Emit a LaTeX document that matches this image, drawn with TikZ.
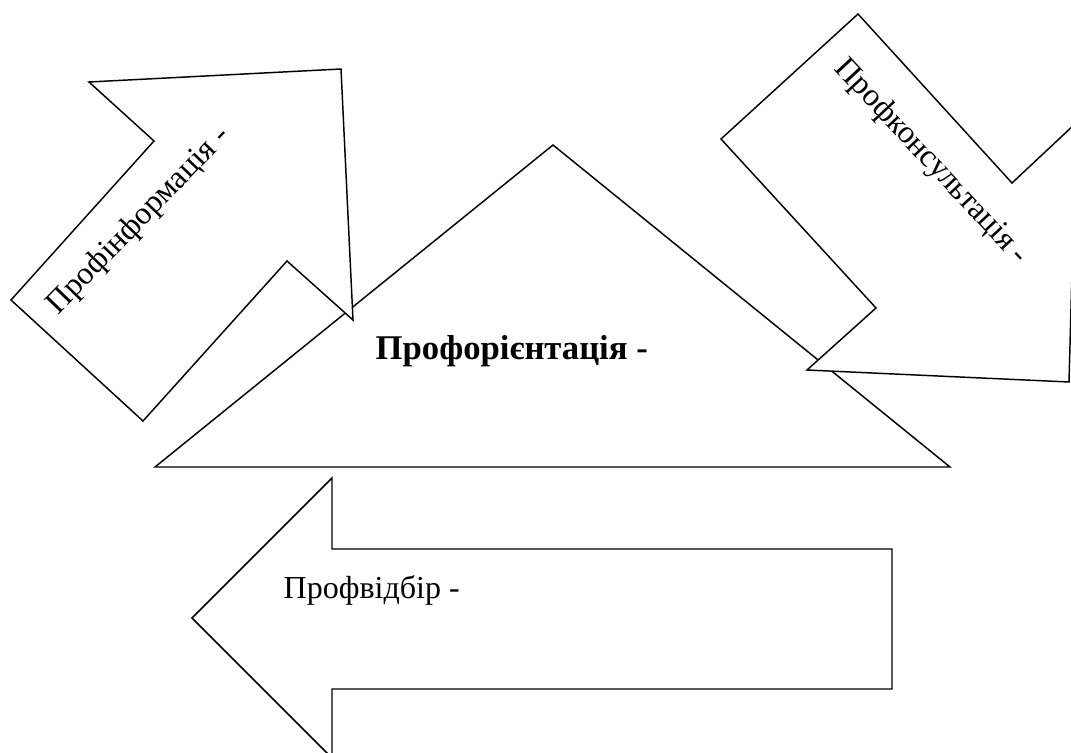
\documentclass[tikz,border=0pt]{standalone}
\usepackage{fontspec}
\setmainfont{Liberation Serif}
\begin{document}
\begin{tikzpicture}[x=0.75pt, y=-0.75pt, line width=1.1pt, line join=miter,
  shp/.style={draw=black, fill=white},
  lbl/.style={font=\fontsize{24}{28}\selectfont, inner sep=0pt}]
  \useasboundingbox (0,0) rectangle (1071,753);
  \clip (0,0) rectangle (1071,753);
  % central triangle
  \draw[shp] (155,467) -- (553,145) -- (950,467) -- cycle;
  % arrows
  \draw[shp] (341,69) -- (353,320) -- (287,261) -- (143,421) -- (11,300)
    -- (154,141) -- (89,82) -- cycle;
  \draw[shp] (858,14) -- (1012,183) -- (1076,123) -- (1069,382) -- (807,370)
    -- (876,308) -- (721,139) -- cycle;
  \draw[shp] (192,618) -- (332,478) -- (332,549) -- (892,549) -- (892,689)
    -- (332,689) -- (332,758) -- cycle;
  % labels
  \node[lbl, font=\fontsize{26}{30}\selectfont\bfseries, anchor=base west] (orient) at (375,359) {Профорієнтація -};
  \node[lbl, rotate=46] (inform) at (139,221) {Профінформація -};
  \node[lbl, rotate=-47] (consult) at (931,162) {Профконсультація -};
  \node[lbl, anchor=base west] (select) at (283,598) {Профвідбір -};
\end{tikzpicture}
\end{document}
